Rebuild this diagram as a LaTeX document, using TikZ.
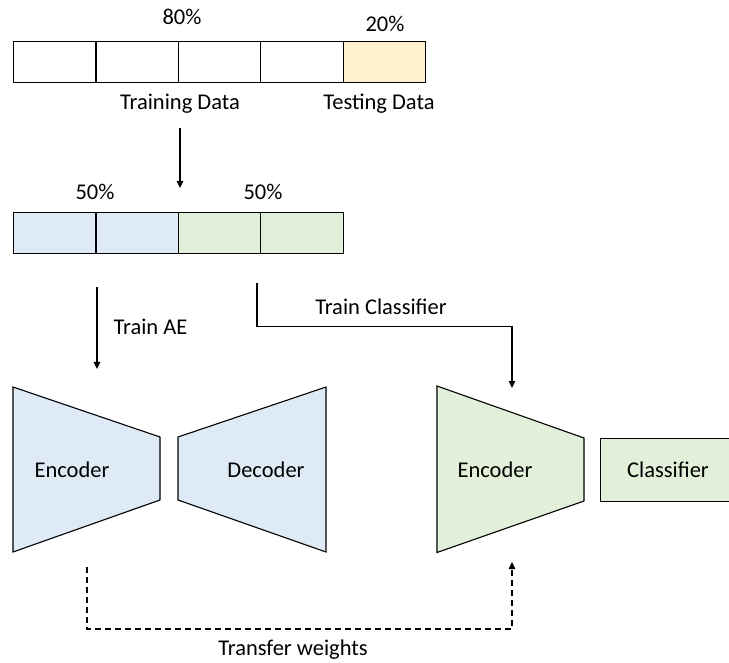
\documentclass[tikz,border=0pt]{standalone}
\usepackage{fontspec}
\setmainfont{Carlito}
\usetikzlibrary{arrows.meta}
\definecolor{testfill}{HTML}{FFF2CC}
\definecolor{aefill}{HTML}{DEEBF7}
\definecolor{clsfill}{HTML}{E2F0D9}
\tikzset{
  cell/.style={draw, line width=1.1pt, minimum width=82.4pt, minimum height=41pt,
               inner sep=0pt, anchor=north west},
  lbl/.style={font=\fontsize{22.5}{26}\selectfont, inner sep=0pt, anchor=base},
  arr/.style={-{Triangle[width=6.5pt,length=7pt]}, line width=1.1pt},
  shapeline/.style={draw, line width=1.1pt, line join=miter},
}
\begin{document}
\begin{tikzpicture}[x=1pt, y=-1pt]
\useasboundingbox (0,0) rectangle (729,663);

% data split: 80% training, 20% testing
\node[cell] (t1) at (13,41) {};
\node[cell] (t2) at (95.4,41) {};
\node[cell] (t3) at (177.8,41) {};
\node[cell] (t4) at (260.2,41) {};
\node[cell, fill=testfill] (t5) at (342.6,41) {};
\node[lbl] (p80) at (182,25) {80\%};
\node[lbl] (p20) at (385,31.5) {20\%};
\node[lbl] (trainlbl) at (180,110) {Training Data};
\node[lbl] (testlbl) at (379,110) {Testing Data};

% training data split in two halves
\node[cell, fill=aefill] (h1) at (13,212) {};
\node[cell, fill=aefill] (h2) at (95.4,212) {};
\node[cell, fill=clsfill] (h3) at (177.8,212) {};
\node[cell, fill=clsfill] (h4) at (260.2,212) {};
\node[lbl] (p50a) at (95,200) {50\%};
\node[lbl] (p50b) at (263,200) {50\%};

\coordinate (split) at (180,128);
\coordinate (splitend) at (180,188);
\draw[arr] (split) -- (splitend);

% autoencoder
\path[shapeline, fill=aefill] (13,387) -- (160,437) -- (160,500) -- (13,552) -- cycle;
\path[shapeline, fill=aefill] (178,437) -- (326,387) -- (326,552) -- (178,500) -- cycle;
\node[lbl] (enc1) at (72,477) {Encoder};
\node[lbl] (dec) at (266,477) {Decoder};

% encoder + classifier (the classifier box runs past the right edge)
\path[shapeline, fill=clsfill] (437,386) -- (584,438) -- (584,501) -- (437,552.5) -- cycle;
\node[draw, line width=1.1pt, fill=clsfill, minimum width=145pt, minimum height=63pt,
      inner sep=0pt, anchor=north west] (clsbox) at (600,438) {};
\node[lbl] (enc2) at (495,477) {Encoder};
\node[lbl] (cls) at (668,477) {Classifier};

% training arrows
\coordinate (aestart) at (97,287);
\coordinate (aeend) at (97,369);
\draw[arr] (aestart) -- (aeend);
\node[lbl] (aelbl) at (150.5,335) {Train AE};

\coordinate (clstart) at (257,283);
\coordinate (clend) at (512,388);
\draw[arr] (clstart) |- (512,326.5) -- (clend);
\node[lbl] (cllbl) at (381,315) {Train Classifier};

% weight transfer
\coordinate (twstart) at (87,567);
\coordinate (twend) at (512,562);
\draw[arr, dashed, dash pattern=on 6pt off 4pt] (twstart) |- (512,629) -- (twend);
\node[lbl] (twlbl) at (293,655.5) {Transfer weights};
\end{tikzpicture}
\end{document}
